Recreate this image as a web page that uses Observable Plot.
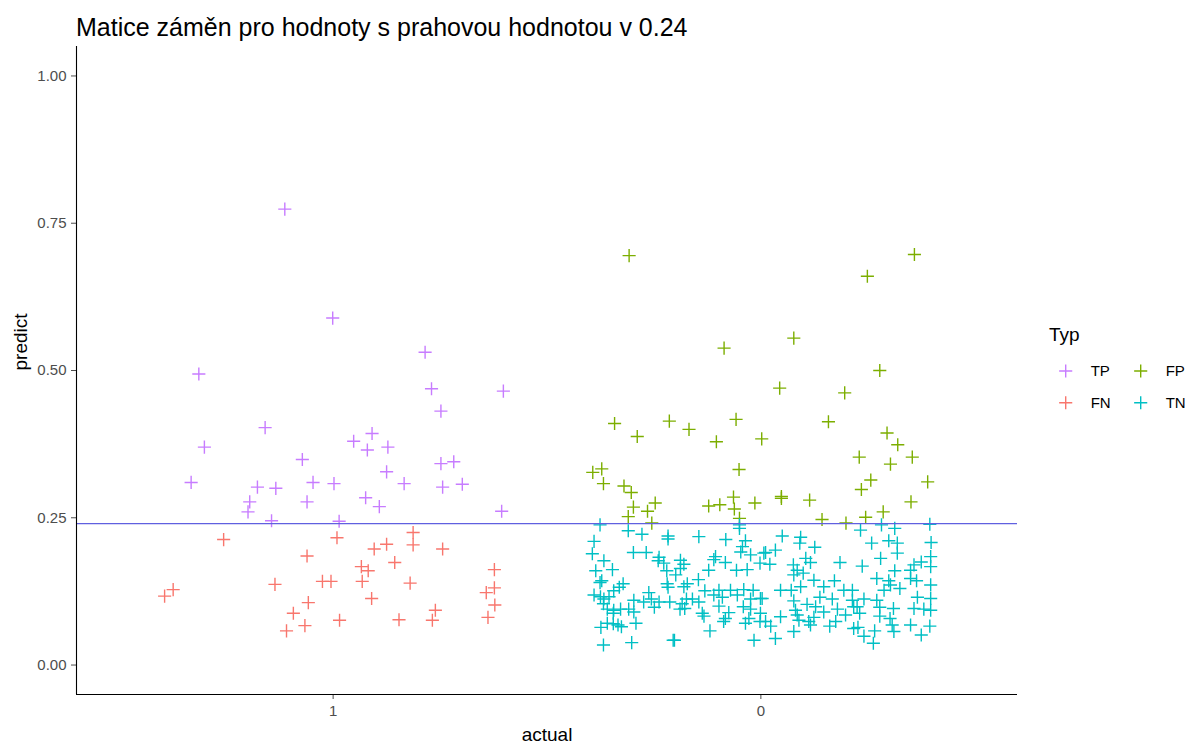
<!DOCTYPE html>
<html><head><meta charset="utf-8">
<script src="https://cdn.jsdelivr.net/npm/d3@7"></script>
<script src="https://cdn.jsdelivr.net/npm/@observablehq/plot@0.6"></script>
<style>
body{margin:0;background:#fff;font-family:"Liberation Sans",Arial,sans-serif;}
#wrap{position:relative;width:1199px;height:748px;overflow:hidden;}
#title{position:absolute;left:76px;top:15px;font-size:25px;line-height:1;color:#000;white-space:nowrap;}
#chart{position:absolute;left:0;top:46px;}
#legend{position:absolute;left:1040px;top:320px;}
</style></head><body>
<div id="wrap"><div id="title">Matice záměn pro hodnoty s prahovou hodnotou v 0.24</div><div id="chart"></div><div id="legend"></div></div>
<script>
const titleText = "Matice záměn pro hodnoty s prahovou hodnotou v 0.24";
const categories = ["1", "0"];          // x-axis categories (actual)
const threshold = 0.24;
const yTicks = [0, 0.25, 0.5, 0.75, 1];
const typeDomain = ["FN", "FP", "TN", "TP"];
const typeColors = ["#F8766D", "#7CAE00", "#00BFC4", "#C77CFF"];
const legendOrder = ["TP", "FP", "FN", "TN"];

// [jitter offset from category, predict]
const TP = [[-0.113,0.774],[-0.001,0.589],[-0.314,0.494],[-0.159,0.403],[-0.301,0.370],[-0.072,0.349],[-0.332,0.310],[-0.047,0.310],[0.002,0.308],[-0.177,0.302],[-0.134,0.300],[-0.195,0.277],[-0.061,0.277],[-0.199,0.260],[-0.144,0.245],[0.014,0.244],[0.215,0.531],[0.230,0.469],[0.398,0.465],[0.252,0.431],[0.091,0.393],[0.048,0.380],[0.080,0.365],[0.128,0.370],[0.125,0.328],[0.252,0.342],[0.282,0.345],[0.166,0.308],[0.256,0.302],[0.302,0.307],[0.076,0.284],[0.108,0.269],[0.394,0.261]];
const FN = [[-0.256,0.213],[-0.061,0.185],[0.009,0.216],[-0.374,0.128],[-0.394,0.117],[-0.136,0.137],[-0.025,0.142],[-0.005,0.142],[-0.058,0.106],[-0.093,0.088],[-0.066,0.067],[-0.109,0.058],[0.015,0.076],[0.187,0.225],[0.096,0.197],[0.125,0.205],[0.187,0.204],[0.256,0.197],[0.144,0.174],[0.066,0.167],[0.082,0.160],[0.068,0.142],[0.180,0.139],[0.090,0.113],[0.377,0.162],[0.377,0.131],[0.358,0.123],[0.378,0.102],[0.362,0.081],[0.239,0.093],[0.232,0.076],[0.154,0.077]];
const FP = [[-0.308,0.695],[-0.086,0.538],[-0.342,0.410],[-0.289,0.388],[-0.214,0.414],[-0.168,0.400],[-0.058,0.417],[-0.104,0.379],[0.002,0.384],[-0.393,0.327],[-0.372,0.333],[-0.368,0.308],[-0.320,0.304],[-0.303,0.293],[-0.051,0.332],[-0.298,0.268],[-0.247,0.275],[-0.265,0.261],[-0.310,0.252],[-0.255,0.241],[-0.122,0.270],[-0.096,0.272],[-0.064,0.285],[-0.062,0.265],[-0.014,0.275],[-0.050,0.249],[0.359,0.697],[0.249,0.660],[0.077,0.555],[0.278,0.500],[0.044,0.470],[0.196,0.462],[0.158,0.413],[0.295,0.394],[0.320,0.374],[0.230,0.353],[0.354,0.353],[0.303,0.341],[0.257,0.314],[0.235,0.298],[0.390,0.311],[0.351,0.277],[0.048,0.286],[0.048,0.283],[0.114,0.280],[0.143,0.247],[0.199,0.241],[0.245,0.251],[0.286,0.260]];
const TN = [[-0.376,0.238],[-0.310,0.228],[-0.278,0.222],[-0.217,0.219],[-0.217,0.214],[-0.390,0.210],[-0.394,0.189],[-0.298,0.191],[-0.268,0.191],[-0.367,0.177],[-0.238,0.183],[-0.240,0.177],[-0.227,0.173],[-0.347,0.162],[-0.386,0.160],[-0.220,0.160],[-0.372,0.143],[-0.376,0.140],[-0.322,0.138],[-0.331,0.132],[-0.219,0.138],[-0.217,0.132],[-0.344,0.126],[-0.390,0.119],[-0.375,0.116],[-0.367,0.112],[-0.355,0.116],[-0.262,0.123],[-0.297,0.110],[-0.274,0.107],[-0.256,0.112],[-0.238,0.107],[-0.213,0.107],[-0.249,0.098],[-0.368,0.104],[-0.359,0.095],[-0.344,0.093],[-0.328,0.095],[-0.309,0.095],[-0.297,0.090],[-0.345,0.088],[-0.359,0.071],[-0.345,0.070],[-0.334,0.068],[-0.326,0.065],[-0.374,0.064],[-0.292,0.071],[-0.205,0.042],[-0.368,0.034],[-0.302,0.038],
[-0.145,0.218],[-0.082,0.213],[-0.050,0.238],[-0.050,0.232],[-0.036,0.211],[-0.043,0.201],[-0.047,0.192],[-0.024,0.187],[0.007,0.190],[-0.002,0.173],[-0.106,0.184],[-0.110,0.179],[-0.083,0.174],[-0.057,0.161],[-0.032,0.162],[-0.122,0.161],[-0.188,0.178],[-0.180,0.171],[-0.188,0.164],[-0.199,0.153],[-0.146,0.145],[-0.172,0.138],[-0.180,0.133],[-0.131,0.126],[-0.098,0.127],[-0.071,0.127],[-0.040,0.128],[-0.018,0.127],[-0.110,0.119],[-0.090,0.115],[-0.055,0.119],[-0.024,0.112],[-0.001,0.113],[-0.174,0.112],[-0.160,0.112],[-0.184,0.104],[-0.145,0.107],[-0.098,0.100],[-0.041,0.099],[-0.024,0.095],[-0.189,0.095],[-0.178,0.096],[-0.137,0.088],[-0.133,0.083],[-0.075,0.089],[-0.083,0.079],[-0.087,0.074],[-0.028,0.079],[-0.036,0.071],[-0.001,0.088],[-0.002,0.074],[-0.119,0.058],[-0.202,0.042],[-0.016,0.042],
[0.050,0.219],[0.093,0.217],[0.091,0.207],[0.126,0.200],[0.011,0.191],[0.034,0.195],[0.021,0.171],[0.105,0.181],[0.116,0.174],[0.076,0.170],[0.085,0.161],[0.185,0.174],[0.099,0.156],[0.077,0.153],[0.124,0.144],[0.172,0.143],[0.093,0.133],[0.147,0.133],[0.046,0.127],[0.071,0.127],[0.194,0.127],[0.214,0.127],[0.003,0.113],[0.138,0.115],[0.167,0.112],[0.077,0.109],[0.108,0.103],[0.128,0.099],[0.214,0.110],[0.081,0.093],[0.179,0.095],[0.217,0.099],[0.147,0.090],[0.046,0.082],[0.085,0.085],[0.124,0.081],[0.198,0.085],[0.011,0.074],[0.089,0.076],[0.112,0.074],[0.175,0.074],[0.023,0.066],[0.116,0.068],[0.161,0.066],[0.077,0.057],[0.034,0.045],[0.217,0.062],
[0.233,0.229],[0.282,0.238],[0.313,0.232],[0.395,0.239],[0.259,0.207],[0.299,0.211],[0.319,0.207],[0.398,0.208],[0.319,0.190],[0.280,0.181],[0.237,0.168],[0.397,0.184],[0.375,0.175],[0.358,0.170],[0.350,0.161],[0.397,0.167],[0.313,0.160],[0.271,0.147],[0.299,0.143],[0.350,0.147],[0.364,0.143],[0.303,0.136],[0.397,0.136],[0.288,0.127],[0.325,0.130],[0.366,0.115],[0.397,0.113],[0.271,0.110],[0.241,0.112],[0.225,0.099],[0.278,0.098],[0.310,0.096],[0.358,0.096],[0.381,0.095],[0.397,0.093],[0.231,0.088],[0.278,0.083],[0.302,0.079],[0.307,0.068],[0.350,0.068],[0.395,0.066],[0.227,0.064],[0.266,0.058],[0.311,0.057],[0.241,0.049],[0.375,0.051],[0.263,0.037]];

const rows = [];
function add(arr, type, actual) {
  const base = categories.indexOf(actual) + 1;
  for (const [j, p] of arr) rows.push({x: base + j, predict: p, type, actual});
}
add(FN, "FN", "1"); add(FP, "FP", "0"); add(TN, "TN", "0"); add(TP, "TP", "1");

const font = "Liberation Sans, Arial, sans-serif";
const dotR = 4.3;
const chart = Plot.plot({
  width: 1020, height: 702,
  marginLeft: 76, marginRight: 3, marginTop: 0, marginBottom: 54,
  style: {fontFamily: font, background: "transparent", overflow: "visible"},
  x: {domain: [0.4, 2.6]},
  y: {domain: [-0.05, 1.05]},
  color: {domain: typeDomain, range: typeColors},
  marks: [
    Plot.axisY({ticks: yTicks, tickFormat: d3.format(".2f"), tickSize: 5, tickPadding: 5, fontSize: 15, color: "#4d4d4d", label: null}),
    Plot.axisX({ticks: [1, 2], tickFormat: d => categories[d - 1], tickSize: 5, tickPadding: 6, fontSize: 15, color: "#4d4d4d", label: null}),
    Plot.dot(rows, {x: "x", y: "predict", stroke: "type", fill: "none", symbol: "plus", r: dotR, strokeWidth: 1.4}),
    Plot.ruleY([threshold], {stroke: "#6060e0", strokeWidth: 1.2}),
    Plot.ruleX([0.4], {stroke: "#000", strokeWidth: 1.1}),
    Plot.ruleY([-0.05], {stroke: "#000", strokeWidth: 1.1}),
    Plot.text(["actual"], {frameAnchor: "bottom", dy: 46, fontSize: 19, fill: "#000"}),
    Plot.text(["predict"], {frameAnchor: "left", dx: -56, rotate: -90, fontSize: 19, fill: "#000"})
  ]
});
document.getElementById("chart").appendChild(chart);

// legend
const lg = d3.select("#legend").append("svg").attr("width", 159).attr("height", 100)
  .style("font-family", font);
lg.append("text").attr("x", 9).attr("y", 21).attr("font-size", 19).text("Typ");
const colorOf = t => typeColors[typeDomain.indexOf(t)];
const sym = d3.symbol(d3.symbolPlus, dotR * dotR * Math.PI);
legendOrder.forEach((t, i) => {
  const col = i % 2, row = Math.floor(i / 2);
  const cx = 25.7 + col * 75, cy = 51 + row * 31.7;
  lg.append("path").attr("d", sym()).attr("transform", `translate(${cx},${cy})`)
    .attr("fill", "none").attr("stroke", colorOf(t)).attr("stroke-width", 1.4);
  lg.append("text").attr("x", cx + 25).attr("y", cy).attr("dy", "0.35em").attr("font-size", 15).attr("fill", "#000").text(t);
});
</script>
</body></html>
